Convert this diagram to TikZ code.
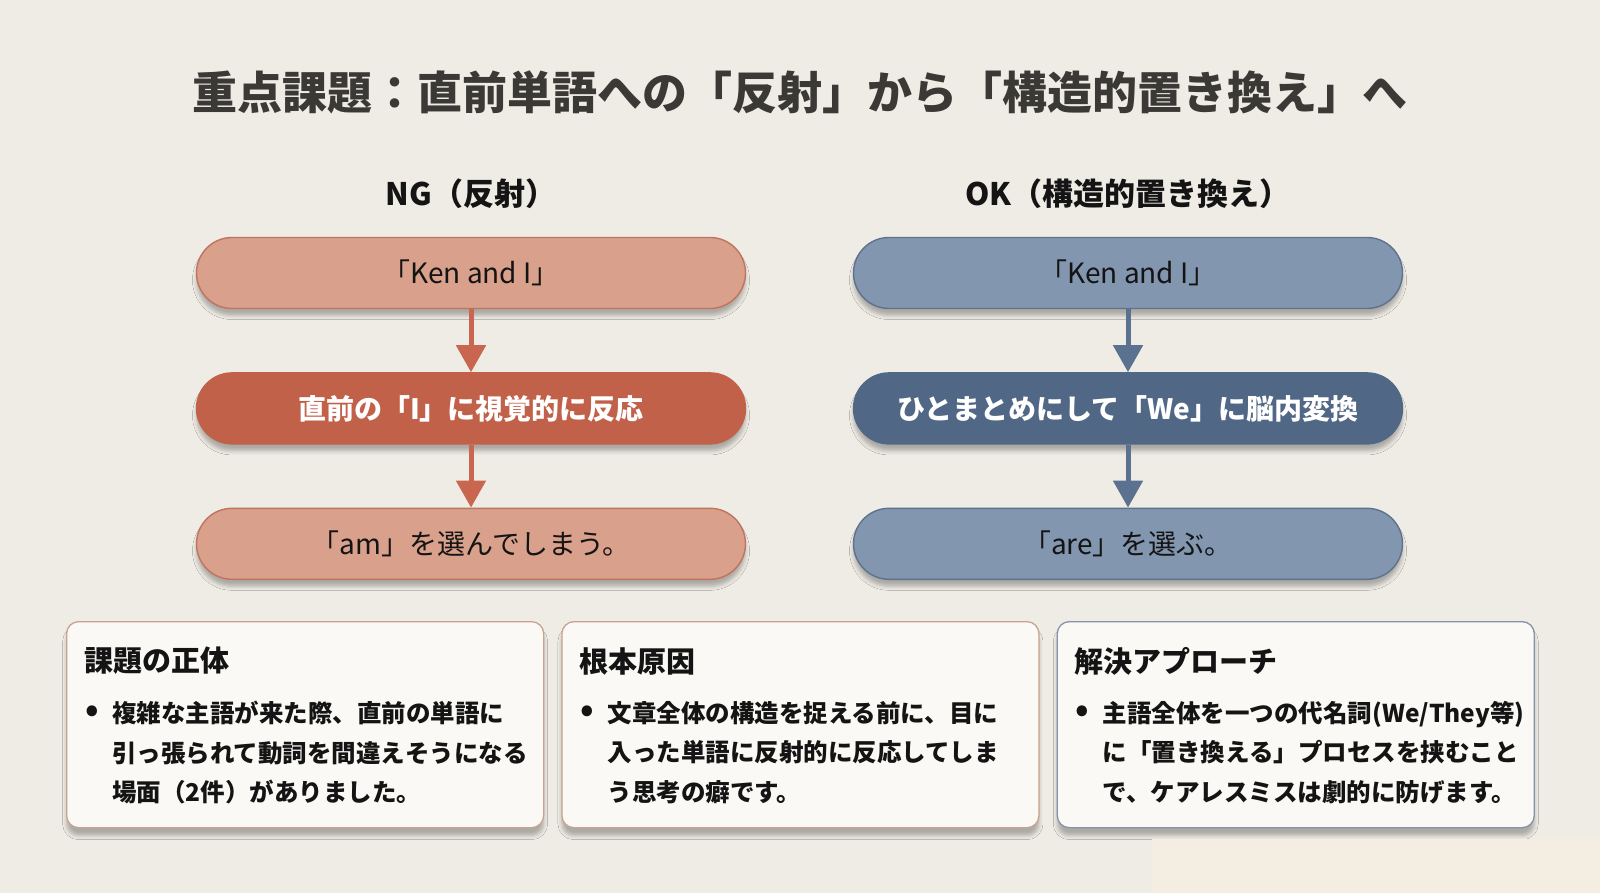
\documentclass[tikz,border=0pt]{standalone}
\usepackage{fontspec}
\setmainfont{Noto Sans CJK JP}
\usetikzlibrary{positioning, arrows.meta, shadows.blur}
\usepackage{color}
\definecolor{paper}{rgb}{0.937, 0.925, 0.898}
\definecolor{patch}{rgb}{0.957, 0.929, 0.886}
\definecolor{titleink}{rgb}{0.23, 0.224, 0.21}
\definecolor{ink}{rgb}{0.08, 0.08, 0.08}
\definecolor{ngsoft}{rgb}{0.85, 0.627, 0.545}
\definecolor{ngline}{rgb}{0.753, 0.45, 0.365}
\definecolor{ngdeep}{rgb}{0.76, 0.38, 0.29}
\definecolor{ngarrow}{rgb}{0.784, 0.4, 0.31}
\definecolor{oksoft}{rgb}{0.514, 0.588, 0.686}
\definecolor{okline}{rgb}{0.369, 0.443, 0.553}
\definecolor{okdeep}{rgb}{0.314, 0.408, 0.525}
\definecolor{okarrow}{rgb}{0.353, 0.447, 0.565}
\definecolor{cardfill}{rgb}{0.98, 0.976, 0.96}
\definecolor{ngedge}{rgb}{0.79, 0.635, 0.57}
\definecolor{okedge}{rgb}{0.52, 0.576, 0.67}
\tikzstyle{pill} = [rectangle,rounded corners=35.5pt,minimum width=549pt,minimum height=71pt,inner sep=0pt,line width=1.4pt,
  blur shadow={shadow xshift=0pt,shadow yshift=-7pt,shadow blur radius=4pt,shadow opacity=28}]
\tikzstyle{softpill} = [pill,text=ink,font=\fontsize{28}{32}\selectfont]
\tikzstyle{deeppill} = [pill,text=white,font=\bfseries\fontsize{28}{32}\selectfont]
\tikzstyle{colhead} = [inner sep=0pt,text=ink,font=\bfseries\fontsize{31}{36}\selectfont]
\tikzstyle{card} = [rectangle,rounded corners=12pt,minimum width=477pt,minimum height=206pt,inner sep=0pt,line width=1.3pt,fill=cardfill,
  blur shadow={shadow xshift=0pt,shadow yshift=-8pt,shadow blur radius=4pt,shadow opacity=28}]
\tikzstyle{cardhead} = [inner sep=0pt,anchor=west,text=ink,font=\bfseries\fontsize{29}{34}\selectfont]
\tikzstyle{cardbody} = [inner sep=0pt,anchor=north west,align=left,text=ink,font=\bfseries\fontsize{24.5}{39.5}\selectfont]
\tikzstyle{dot} = [inner sep=0pt,text=ink,font=\bfseries\fontsize{34}{36}\selectfont]
\tikzstyle{flow} = [line width=5pt,-{Triangle[width=29pt,length=27pt]}]

\begin{document}
\begin{tikzpicture}[x=1pt,y=-1pt]
		\fill[paper](0,0)rectangle(1600,893);
		\useasboundingbox(0,0)rectangle(1600,893);
		\node[inner sep=0pt,text=titleink,font=\bfseries\fontsize{45}{50}\selectfont](title) at (800,92){重点課題：直前単語への「反射」から「構造的置き換え」へ};
		
		% NG column
		\node[softpill,fill=ngsoft,draw=ngline](ngken) at (471,273){「Ken and I」};
		\node[deeppill,fill=ngdeep,draw=ngdeep,below=63pt of ngken](ngmid){直前の「I」に視覚的に反応};
		\node[softpill,fill=ngsoft,draw=ngline,below=63pt of ngmid](ngend){「am」を選んでしまう。};
		\node[colhead,above=28pt of ngken](nghead){NG（反射）};
		\draw[flow,ngarrow](ngken)--(ngmid);
		\draw[flow,ngarrow](ngmid)--(ngend);
		
		% OK column
		\node[softpill,fill=oksoft,draw=okline](okken) at (1128,273){「Ken and I」};
		\node[deeppill,fill=okdeep,draw=okdeep,below=63pt of okken](okmid){ひとまとめにして「We」に脳内変換};
		\node[softpill,fill=oksoft,draw=okline,below=63pt of okmid](okend){「are」を選ぶ。};
		\node[colhead,above=28pt of okken](okhead){OK（構造的置き換え）};
		\draw[flow,okarrow](okken)--(okmid);
		\draw[flow,okarrow](okmid)--(okend);
		
		% cards
		\node[card,draw=ngedge,anchor=north west](issue) at (66,621){};
		\node[card,draw=ngedge,right=17pt of issue](cause){};
		\node[card,draw=okedge,right=17pt of cause](fix){};
		
		\node[cardhead](issuehead) at ([xshift=18pt,yshift=-40pt]issue.north west){課題の正体};
		\node[dot](issuedot) at ([xshift=26pt,yshift=-93pt]issue.north west){•};
		\node[cardbody](issuetext) at ([xshift=46pt,yshift=-80pt]issue.north west){複雑な主語が来た際、直前の単語に\\引っ張られて動詞を間違えそうになる\\場面（2件）がありました。};
		
		\node[cardhead](causehead) at ([xshift=18pt,yshift=-40pt]cause.north west){根本原因};
		\node[dot](causedot) at ([xshift=26pt,yshift=-93pt]cause.north west){•};
		\node[cardbody](causetext) at ([xshift=46pt,yshift=-80pt]cause.north west){文章全体の構造を捉える前に、目に\\入った単語に反射的に反応してしま\\う思考の癖です。};
		
		\node[cardhead](fixhead) at ([xshift=18pt,yshift=-40pt]fix.north west){解決アプローチ};
		\node[dot](fixdot) at ([xshift=26pt,yshift=-93pt]fix.north west){•};
		\node[cardbody](fixtext) at ([xshift=46pt,yshift=-80pt]fix.north west){主語全体を一つの代名詞(We/They等)\\に「置き換える」プロセスを挟むこと\\で、ケアレスミスは劇的に防げます。};
		
		\fill[patch](1152,839)rectangle(1600,893);
		\end{tikzpicture}
\end{document}
